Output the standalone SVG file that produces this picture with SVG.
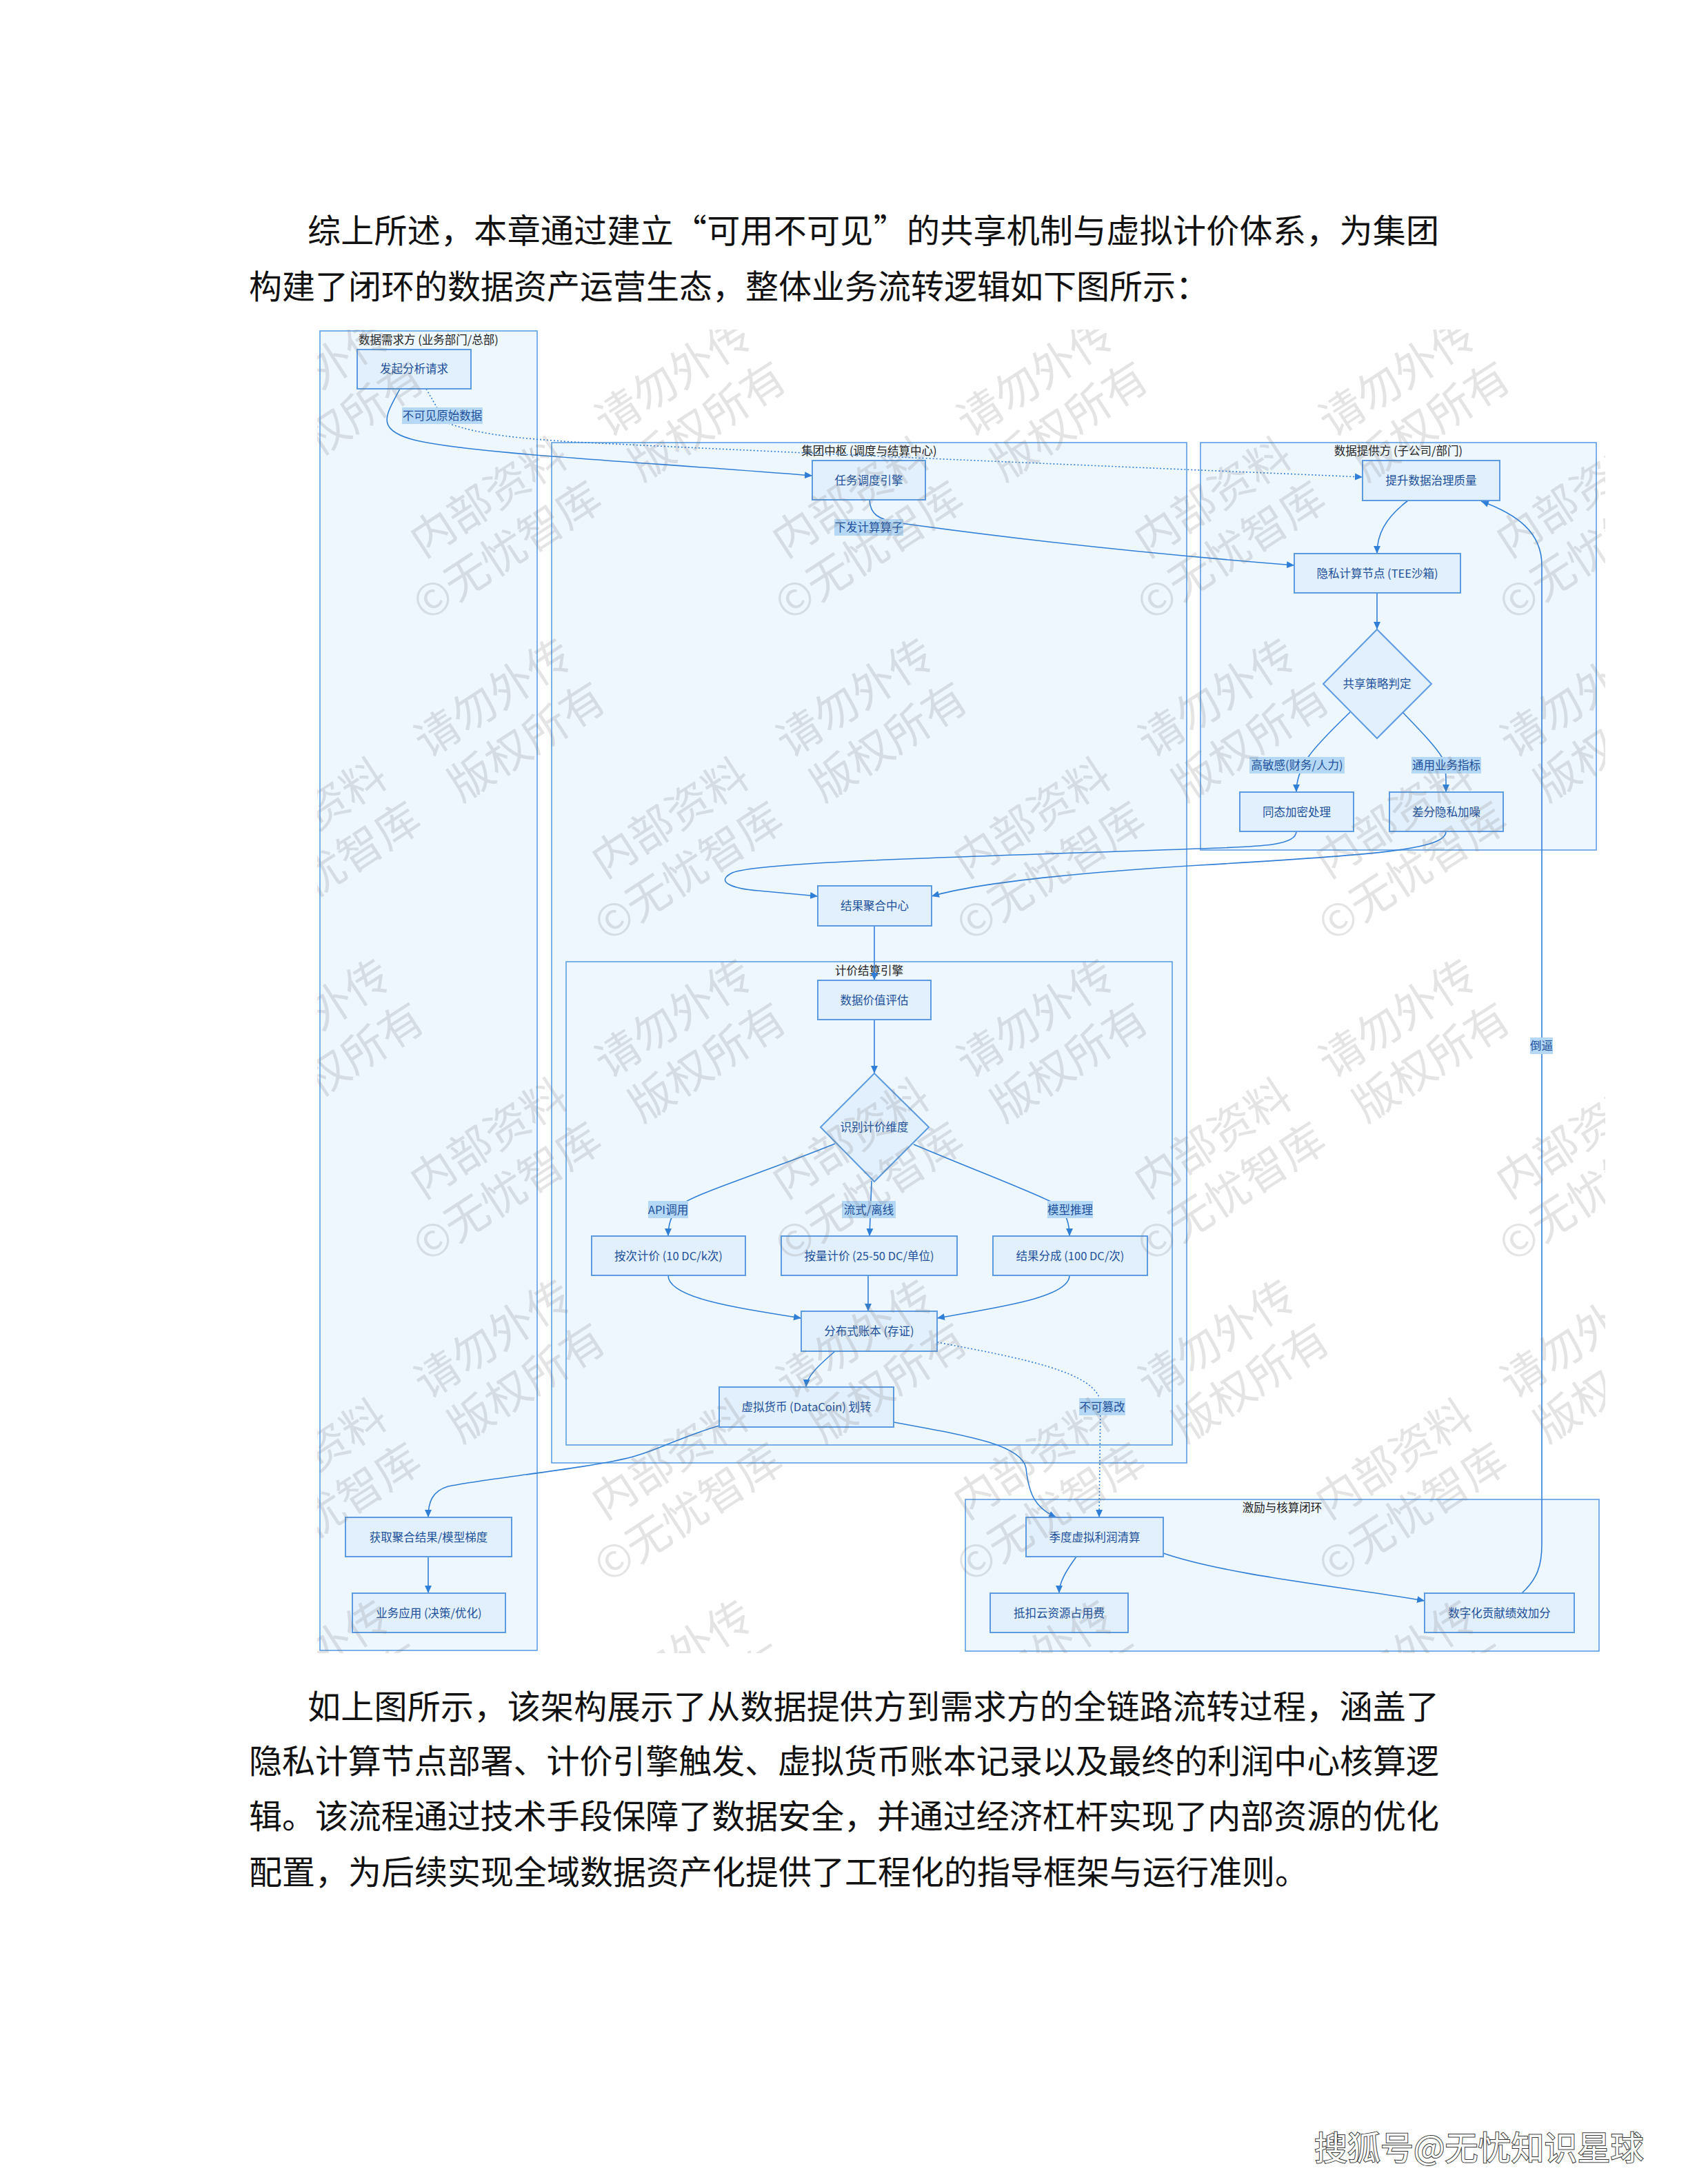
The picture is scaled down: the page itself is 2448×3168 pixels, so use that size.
<svg xmlns="http://www.w3.org/2000/svg" width="2448" height="3168" viewBox="0 0 2448 3168">
<defs>
<style>
.para{font-family:"Noto Sans CJK SC","Noto Sans",sans-serif;font-size:48px;fill:#111}
.cl{fill:#eef6fe;stroke:#5b9ee3;stroke-width:1.6}
.ct{font-family:"Noto Sans CJK SC","Noto Sans",sans-serif;font-size:16.5px;fill:#222;text-anchor:middle}
.nb{fill:#e2effc;stroke:#5c9be0;stroke-width:2}
.nt{font-family:"Noto Sans CJK SC","Noto Sans",sans-serif;font-size:16.5px;fill:#1d4f9a;text-anchor:middle}
.e{fill:none;stroke:#2f7fd8;stroke-width:1.6;marker-end:url(#ah)}
.d{stroke-dasharray:2 3}
.lb{fill:#b5d8f6}
.wm{font-family:"Noto Sans CJK SC","Noto Sans",sans-serif;font-size:64px;fill:#7a7a7a;fill-opacity:0.2;text-anchor:middle}
.sh{font-family:"Noto Sans CJK SC","Noto Sans",sans-serif;font-size:48px;fill:#fff;stroke:#333;stroke-width:2;paint-order:stroke}
</style>
<marker id="ah" viewBox="0 0 10 10" refX="10" refY="5" markerWidth="11" markerHeight="11" markerUnits="userSpaceOnUse" orient="auto"><path d="M0,0.5 L10,5 L0,9.5 z" fill="#2f7fd8"/></marker>
<clipPath id="wmclip"><rect x="460" y="478" width="1868" height="1920"/></clipPath>
<g id="wmb"><text class="wm" x="0" y="24">内部资料　请勿外传</text><text class="wm" x="-20" y="104">©无忧智库　版权所有</text></g>
</defs>
<rect x="0" y="0" width="2448" height="3168" fill="#fff"/>

<g id="para-top">
<text class="para" x="446" y="352" textLength="1641" lengthAdjust="spacing">综上所述，本章通过建立“可用不可见”的共享机制与虚拟计价体系，为集团</text>
<text class="para" x="361" y="433">构建了闭环的数据资产运营生态，整体业务流转逻辑如下图所示：</text>
</g>

<g id="clusters">
<g id="cluster-demand"><rect class="cl" x="464" y="480" width="315" height="1914"/><text class="ct" x="621.5" y="499">数据需求方 (业务部门/总部)</text></g>
<g id="cluster-hub"><rect class="cl" x="800" y="642" width="921" height="1480"/><text class="ct" x="1260.5" y="660">集团中枢 (调度与结算中心)</text></g>
<g id="cluster-provider"><rect class="cl" x="1741" y="642" width="574" height="591"/><text class="ct" x="2028" y="660">数据提供方 (子公司/部门)</text></g>
<g id="cluster-pricing"><rect class="cl" x="821" y="1395" width="879" height="701"/><text class="ct" x="1260.5" y="1414">计价结算引擎</text></g>
<g id="cluster-incentive"><rect class="cl" x="1400" y="2175" width="919" height="220"/><text class="ct" x="1859.5" y="2193">激励与核算闭环</text></g>
</g>

<g id="connectors">
<path class="e" d="M580,564 C560,602 542,624 604,639 C690,658 900,668 1178,690"/>
<path class="e d" d="M618,564 C632,588 640,604 650,614 C700,632 760,636 830,641 C1300,664 1700,680 1976,692"/>
<path class="e" d="M1261,725 C1262,746 1274,753 1300,758 C1500,786 1700,806 1877,820"/>
<path class="e" d="M2042,726 C2008,752 1997,776 1997,803"/>
<path class="e" d="M1997,860 L1997,913"/>
<path class="e" d="M1958,1033 C1930,1060 1906,1084 1896,1100 C1885,1117 1880,1132 1880,1149"/>
<path class="e" d="M2034,1033 C2060,1060 2084,1085 2092,1100 C2098,1117 2097,1132 2097,1149"/>
<path class="e" d="M1880,1206 C1880,1228 1820,1228 1740,1231 C1400,1243 1100,1250 1062,1266 C1036,1279 1062,1289 1100,1292 L1186,1300"/>
<path class="e" d="M2097,1206 C2097,1232 2000,1240 1740,1255 C1560,1266 1420,1280 1351,1300"/>
<path class="e" d="M1268,1343 L1268,1422"/>
<path class="e" d="M1268,1479 L1268,1557"/>
<path class="e" d="M1211,1659 C1120,1696 1012,1730 990,1746 C974,1758 969,1776 969,1793"/>
<path class="e" d="M1264,1713 L1261,1793"/>
<path class="e" d="M1325,1660 C1420,1700 1500,1730 1530,1746 C1547,1758 1551,1776 1551,1793"/>
<path class="e" d="M969,1850 C969,1882 1060,1896 1162,1912"/>
<path class="e" d="M1259,1850 L1259,1902"/>
<path class="e" d="M1551,1850 C1551,1882 1450,1896 1359,1912"/>
<path class="e" d="M1211,1960 C1188,1980 1170,1996 1169,2012"/>
<path class="e d" d="M1359,1947 C1480,1970 1592,1990 1596,2035 L1594,2201"/>
<path class="e" d="M1043,2068 C985,2085 958,2102 918,2113 C855,2130 700,2145 650,2156 C626,2163 621,2180 621,2201"/>
<path class="e" d="M1296,2063 C1400,2082 1482,2095 1488,2130 C1492,2168 1502,2188 1532,2201"/>
<path class="e" d="M621,2258 L621,2311"/>
<path class="e" d="M1561,2258 C1545,2280 1536,2296 1536,2311"/>
<path class="e" d="M1687,2253 C1780,2285 1950,2302 2066,2322"/>
<path class="e" d="M2207,2311 C2230,2290 2236,2270 2236,2240 L2236,820 C2236,772 2200,746 2148,727"/>
</g>

<g id="nodes">
<g id="n-request"><rect class="nb" x="518" y="507" width="165" height="57"/><text class="nt" x="600.5" y="541">发起分析请求</text></g>
<g id="n-dispatch"><rect class="nb" x="1178" y="668" width="164" height="57"/><text class="nt" x="1260" y="702.5">任务调度引擎</text></g>
<g id="n-quality"><rect class="nb" x="1976" y="668" width="199" height="58"/><text class="nt" x="2075.5" y="703">提升数据治理质量</text></g>
<g id="n-tee"><rect class="nb" x="1877" y="803" width="241" height="57"/><text class="nt" x="1997.5" y="837.5">隐私计算节点 (TEE沙箱)</text></g>
<g id="n-policy"><polygon class="nb" points="1997,913 2076,992 1997,1071 1919,992"/><text class="nt" x="1997" y="998">共享策略判定</text></g>
<g id="n-he"><rect class="nb" x="1798" y="1149" width="165" height="57"/><text class="nt" x="1880.5" y="1183.5">同态加密处理</text></g>
<g id="n-dp"><rect class="nb" x="2015" y="1149" width="165" height="57"/><text class="nt" x="2097.5" y="1183.5">差分隐私加噪</text></g>
<g id="n-agg"><rect class="nb" x="1186" y="1285" width="165" height="58"/><text class="nt" x="1268.5" y="1320">结果聚合中心</text></g>
<g id="n-value"><rect class="nb" x="1186" y="1422" width="164" height="57"/><text class="nt" x="1268" y="1456.5">数据价值评估</text></g>
<g id="n-dim"><polygon class="nb" points="1268,1557 1347,1635 1268,1714 1190,1635"/><text class="nt" x="1268" y="1641">识别计价维度</text></g>
<g id="n-per-call"><rect class="nb" x="858" y="1793" width="223" height="57"/><text class="nt" x="969.5" y="1827.5">按次计价 (10 DC/k次)</text></g>
<g id="n-volume"><rect class="nb" x="1133" y="1793" width="255" height="57"/><text class="nt" x="1260.5" y="1827.5">按量计价 (25-50 DC/单位)</text></g>
<g id="n-share"><rect class="nb" x="1440" y="1793" width="224" height="57"/><text class="nt" x="1552" y="1827.5">结果分成 (100 DC/次)</text></g>
<g id="n-ledger"><rect class="nb" x="1162" y="1902" width="197" height="58"/><text class="nt" x="1260.5" y="1937">分布式账本 (存证)</text></g>
<g id="n-coin"><rect class="nb" x="1043" y="2012" width="253" height="58"/><text class="nt" x="1169.5" y="2047">虚拟货币 (DataCoin) 划转</text></g>
<g id="n-fetch"><rect class="nb" x="501" y="2201" width="241" height="57"/><text class="nt" x="621.5" y="2235.5">获取聚合结果/模型梯度</text></g>
<g id="n-app"><rect class="nb" x="511" y="2311" width="222" height="57"/><text class="nt" x="622" y="2345.5">业务应用 (决策/优化)</text></g>
<g id="n-profit"><rect class="nb" x="1488" y="2201" width="199" height="57"/><text class="nt" x="1587.5" y="2235.5">季度虚拟利润清算</text></g>
<g id="n-cloud"><rect class="nb" x="1436" y="2311" width="200" height="57"/><text class="nt" x="1536" y="2345.5">抵扣云资源占用费</text></g>
<g id="n-kpi"><rect class="nb" x="2066" y="2311" width="217" height="57"/><text class="nt" x="2174.5" y="2345.5">数字化贡献绩效加分</text></g>
</g>

<g id="edge-labels">
<rect class="lb" x="583" y="591" width="117" height="24"/><text class="nt" x="641.5" y="609">不可见原始数据</text>
<rect class="lb" x="1210" y="753" width="100" height="24"/><text class="nt" x="1260" y="771">下发计算算子</text>
<rect class="lb" x="1812" y="1098" width="138" height="24"/><text class="nt" x="1881" y="1116">高敏感(财务/人力)</text>
<rect class="lb" x="2047" y="1098" width="101" height="24"/><text class="nt" x="2097.5" y="1116">通用业务指标</text>
<rect class="lb" x="940" y="1742" width="58" height="25"/><text class="nt" x="969" y="1760.5">API调用</text>
<rect class="lb" x="1221" y="1742" width="78" height="25"/><text class="nt" x="1260" y="1760.5">流式/离线</text>
<rect class="lb" x="1519" y="1742" width="66" height="25"/><text class="nt" x="1552" y="1760.5">模型推理</text>
<rect class="lb" x="1565" y="2028" width="67" height="25"/><text class="nt" x="1598.5" y="2046.5">不可篡改</text>
<rect class="lb" x="2219" y="1505" width="33" height="24"/><text class="nt" x="2235.5" y="1523">倒逼</text>
</g>

<g id="watermarks" clip-path="url(#wmclip)">
<use href="#wmb" transform="translate(317,633) rotate(-33)"/>
<use href="#wmb" transform="translate(842,633) rotate(-33)"/>
<use href="#wmb" transform="translate(1367,633) rotate(-33)"/>
<use href="#wmb" transform="translate(1892,633) rotate(-33)"/>
<use href="#wmb" transform="translate(2417,633) rotate(-33)"/>
<use href="#wmb" transform="translate(580,1098) rotate(-33)"/>
<use href="#wmb" transform="translate(1105,1098) rotate(-33)"/>
<use href="#wmb" transform="translate(1630,1098) rotate(-33)"/>
<use href="#wmb" transform="translate(2155,1098) rotate(-33)"/>
<use href="#wmb" transform="translate(317,1563) rotate(-33)"/>
<use href="#wmb" transform="translate(842,1563) rotate(-33)"/>
<use href="#wmb" transform="translate(1367,1563) rotate(-33)"/>
<use href="#wmb" transform="translate(1892,1563) rotate(-33)"/>
<use href="#wmb" transform="translate(2417,1563) rotate(-33)"/>
<use href="#wmb" transform="translate(580,2028) rotate(-33)"/>
<use href="#wmb" transform="translate(1105,2028) rotate(-33)"/>
<use href="#wmb" transform="translate(1630,2028) rotate(-33)"/>
<use href="#wmb" transform="translate(2155,2028) rotate(-33)"/>
<use href="#wmb" transform="translate(317,2493) rotate(-33)"/>
<use href="#wmb" transform="translate(842,2493) rotate(-33)"/>
<use href="#wmb" transform="translate(1367,2493) rotate(-33)"/>
<use href="#wmb" transform="translate(1892,2493) rotate(-33)"/>
<use href="#wmb" transform="translate(2417,2493) rotate(-33)"/>
</g>

<g id="para-bottom">
<text class="para" x="446" y="2493" textLength="1641" lengthAdjust="spacing">如上图所示，该架构展示了从数据提供方到需求方的全链路流转过程，涵盖了</text>
<text class="para" x="361" y="2572" textLength="1726" lengthAdjust="spacing">隐私计算节点部署、计价引擎触发、虚拟货币账本记录以及最终的利润中心核算逻</text>
<text class="para" x="361" y="2652" textLength="1726" lengthAdjust="spacing">辑。该流程通过技术手段保障了数据安全，并通过经济杠杆实现了内部资源的优化</text>
<text class="para" x="361" y="2733">配置，为后续实现全域数据资产化提供了工程化的指导框架与运行准则。</text>
</g>

<text class="sh" x="1906" y="3133">搜狐号@无忧知识星球</text>
</svg>
